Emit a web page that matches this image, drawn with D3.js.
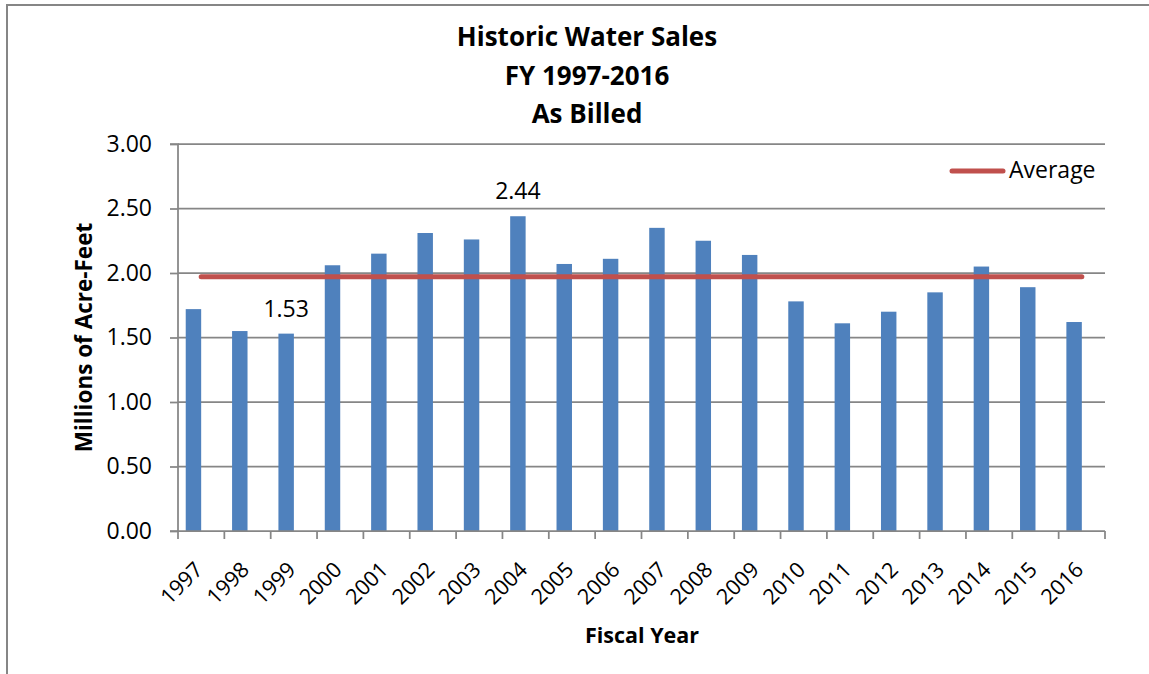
<!DOCTYPE html>
<html>
<head>
<meta charset="utf-8">
<script src="https://cdn.jsdelivr.net/npm/d3@7"></script>
<style>
  html, body { margin: 0; padding: 0; background: #fff; }
  svg { display: block; }
  text { font-family: "Open Sans", Lato, sans-serif; fill: #000; }
</style>
</head>
<body>
<svg id="chart" width="1149" height="674"></svg>
<script>
const years = ["1997","1998","1999","2000","2001","2002","2003","2004","2005","2006",
               "2007","2008","2009","2010","2011","2012","2013","2014","2015","2016"];
const sales = [1.72,1.55,1.53,2.06,2.15,2.31,2.26,2.44,2.07,2.11,
               2.35,2.25,2.14,1.78,1.61,1.70,1.85,2.05,1.89,1.62];
const average = [1.97,1.97,1.97,1.97,1.97,1.97,1.97,1.97,1.97,1.97,
                 1.97,1.97,1.97,1.97,1.97,1.97,1.97,1.97,1.97,1.97];
const labeledYears = ["1999","2004"];
const yTicks = [0, 0.5, 1.0, 1.5, 2.0, 2.5, 3.0];
const titleLines = ["Historic Water Sales", "FY 1997-2016", "As Billed"];
const yTitle = "Millions of Acre-Feet";
const xTitle = "Fiscal Year";
const legendLabel = "Average";

(function () {
const svg = d3.select("#chart");
const pLeft = 178, pRight = 1105, pTop = 144, pBottom = 531;
const fs = "23px";

const gray = "#868686";
const blue = "#4F81BD";
const red = "#C0504D";

// outer border
svg.append("path")
  .attr("d", `M7,680 L7,5 L1160,5`)
  .attr("fill", "none").attr("stroke", gray).attr("stroke-width", 2);

const x = d3.scaleBand().domain(years).range([pLeft, pRight]).paddingInner(0).paddingOuter(0);
const y = d3.scaleLinear().domain([0, 3]).range([pBottom, pTop]);

// gridlines
svg.append("g").selectAll("line").data(yTicks.filter(d => d > 0)).join("line")
  .attr("x1", pLeft).attr("x2", pRight)
  .attr("y1", d => y(d)).attr("y2", d => y(d))
  .attr("stroke", gray).attr("stroke-width", 1.75);

// bars: clustered with a hidden second series, so bar sits left of category center
const bw = x.bandwidth();
const barW = bw / 3;
svg.append("g").selectAll("rect").data(years).join("rect")
  .attr("x", (d) => x(d) + bw / 2 - barW)
  .attr("width", barW)
  .attr("y", (d, i) => y(sales[i]))
  .attr("height", (d, i) => y(0) - y(sales[i]))
  .attr("fill", blue);

// y axis
const yAxis = d3.axisLeft(y).tickValues(yTicks).tickFormat(d3.format(".2f")).tickSize(8).tickPadding(18);
const gy = svg.append("g").attr("transform", `translate(${pLeft},0)`).call(yAxis);
gy.select(".domain").attr("stroke", gray).attr("stroke-width", 1.75).attr("d", `M-8,${pTop}H0V${pBottom}H-8`);
gy.selectAll(".tick line").attr("stroke", gray).attr("stroke-width", 1.75);
gy.selectAll(".tick text").style("font-size", fs).style("font-family", "'Open Sans', sans-serif").attr("fill", "#000");

// x axis with tick marks at category boundaries
const gx = svg.append("g").attr("transform", `translate(0,${pBottom})`);
gx.append("line").attr("x1", pLeft).attr("x2", pRight).attr("y1", 0).attr("y2", 0)
  .attr("stroke", gray).attr("stroke-width", 1.75);
const boundaries = years.map(d => x(d)).concat([x(years[years.length - 1]) + bw]);
gx.selectAll("line.tk").data(boundaries).join("line").attr("class", "tk")
  .attr("x1", d => d).attr("x2", d => d).attr("y1", 0).attr("y2", 8)
  .attr("stroke", gray).attr("stroke-width", 1.75);
gx.selectAll("text.xl").data(years).join("text").attr("class", "xl")
  .attr("transform", d => `translate(${x(d) + bw / 2 + 3},${40}) rotate(-45)`)
  .attr("text-anchor", "end")
  .style("font-size", "21.5px")
  .text(d => d);

// average line
const line = d3.line().x((d, i) => x(years[i]) + bw / 2).y(d => y(d));
svg.append("path").datum(average)
  .attr("d", line)
  .attr("fill", "none").attr("stroke", red).attr("stroke-width", 5).attr("stroke-linecap", "round");

// data labels
svg.append("g").selectAll("text").data(labeledYears).join("text")
  .attr("x", d => x(d) + bw / 2 - barW / 2)
  .attr("y", d => y(sales[years.indexOf(d)]) - 17)
  .attr("text-anchor", "middle")
  .style("font-size", fs)
  .text(d => sales[years.indexOf(d)].toFixed(2));

// titles
svg.append("g").selectAll("text").data(titleLines).join("text")
  .attr("x", 587)
  .attr("y", (d, i) => 46 + i * 38.7)
  .attr("text-anchor", "middle")
  .style("font-size", "26px").style("font-weight", "bold")
  .text(d => d);

// axis titles
svg.append("text")
  .attr("transform", `translate(92,${(pTop + pBottom) / 2}) rotate(-90)`)
  .attr("text-anchor", "middle")
  .style("font-size", "22.5px").style("font-weight", "bold")
  .text(yTitle);
svg.append("text")
  .attr("x", 642).attr("y", 643)
  .attr("text-anchor", "middle")
  .style("font-size", "21.5px").style("font-weight", "bold")
  .text(xTitle);

// legend
svg.append("line").attr("x1", 952).attr("x2", 1003).attr("y1", 171).attr("y2", 171)
  .attr("stroke", red).attr("stroke-width", 5).attr("stroke-linecap", "round");
svg.append("text").attr("x", 1009).attr("y", 178)
  .style("font-size", fs).text(legendLabel);
})();
</script>
</body>
</html>
